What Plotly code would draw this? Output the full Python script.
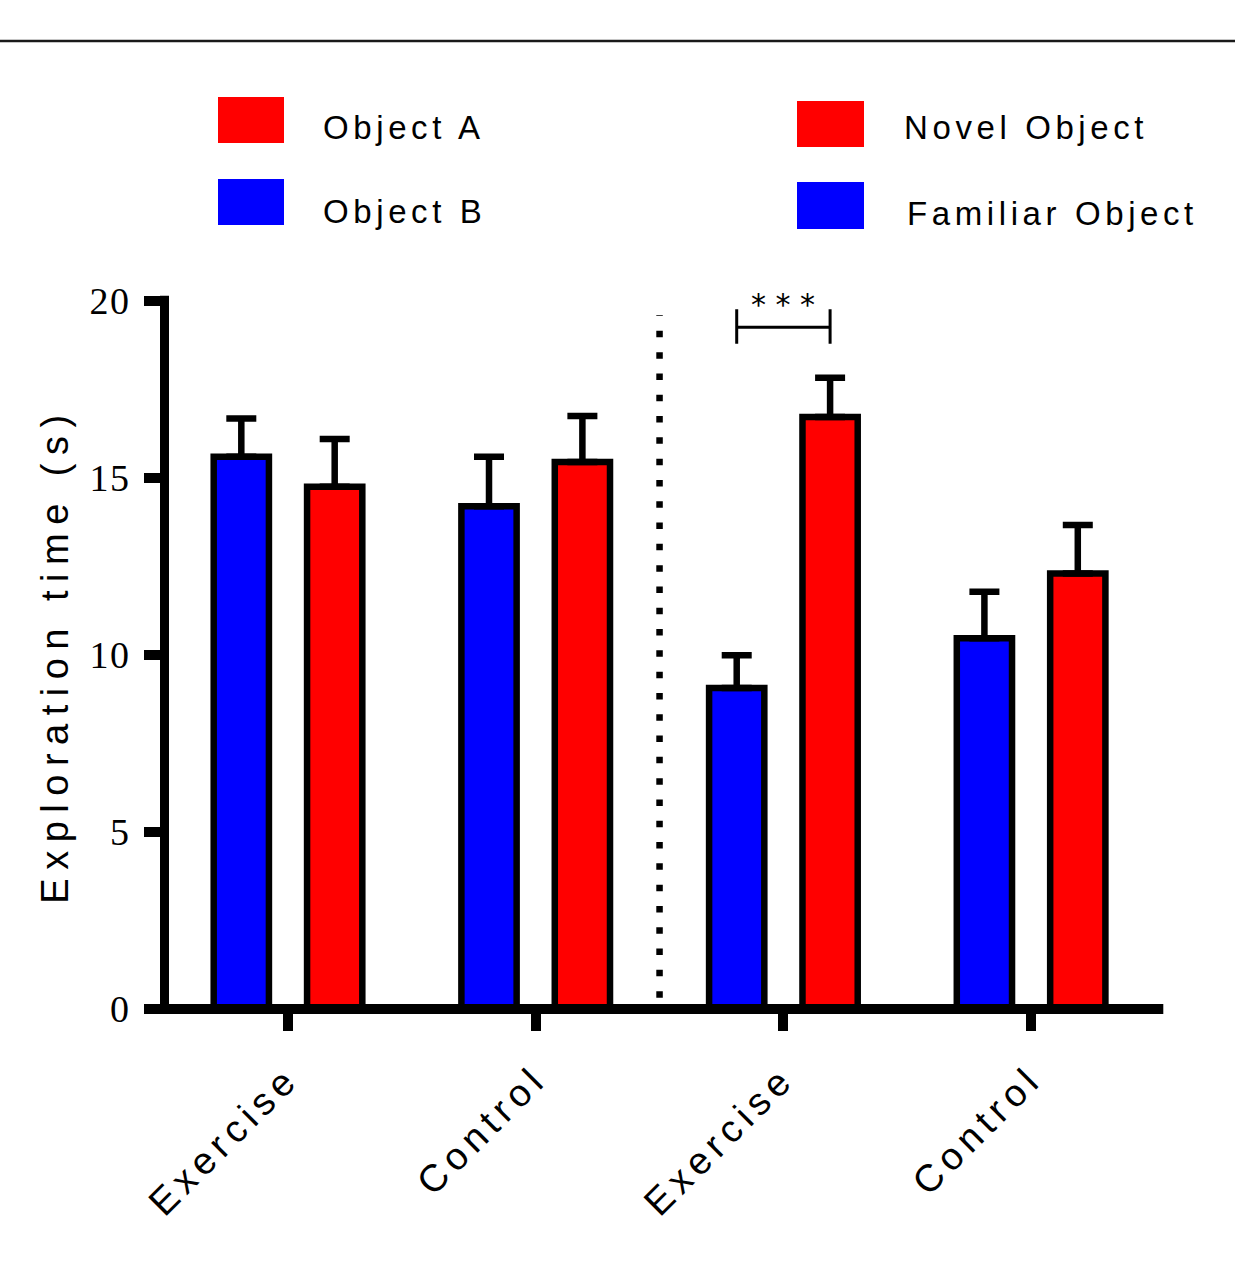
import plotly.graph_objects as go

# ---------------- data ----------------
tick_labels = ["Exercise", "Control", "Exercise", "Control"]
y_ticks = [0, 5, 10, 15, 20]

object_b = [15.60, 14.20]          # blue, left half
object_b_err = [1.08, 1.40]
object_a = [14.75, 15.45]          # red, left half
object_a_err = [1.35, 1.30]
familiar = [9.07, 10.47]           # blue, right half
familiar_err = [0.92, 1.32]
novel = [16.72, 12.30]             # red, right half
novel_err = [1.11, 1.37]

legend_labels = ["Object A", "Object B", "Novel Object", "Familiar Object"]
significance = "* * *"
y_title = "Exploration time (s)"

# ---------------- style / geometry ----------------
BLUE = "#0000FF"
RED = "#FF0000"
W, H = 1235, 1261
L, R, T, B = 164, 72, 301, 252
PW, PH = W - L - R, H - T - B


def fx(px):
    return (px - L) / PW


def fy(py):
    return (H - B - py) / PH


OFF = 0.1885
BW = 0.223
left_groups = list(range(0, 2))
right_groups = list(range(2, 4))


def make_bar(name, groups, vals, errs, color, side):
    return go.Bar(
        name=name, x=groups, y=vals, width=BW, offset=side * OFF - BW / 2,
        marker=dict(color=color, line=dict(color="black", width=6.5)),
        error_y=dict(type="data", array=errs, arrayminus=[0] * len(errs),
                     symmetric=False, color="black", thickness=6.5, width=15),
        showlegend=False,
    )


fig = go.Figure()
fig.add_trace(make_bar(legend_labels[1], left_groups, object_b, object_b_err, BLUE, -1))
fig.add_trace(make_bar(legend_labels[0], left_groups, object_a, object_a_err, RED, 1))
fig.add_trace(make_bar(legend_labels[3], right_groups, familiar, familiar_err, BLUE, -1))
fig.add_trace(make_bar(legend_labels[2], right_groups, novel, novel_err, RED, 1))

shapes = [
    # top rule
    dict(type="line", xref="paper", yref="paper", x0=fx(0), x1=fx(W), y0=fy(41), y1=fy(41),
         line=dict(color="#1a1a1a", width=2.5)),
    # y axis line
    dict(type="line", xref="paper", yref="paper", x0=fx(164.5), x1=fx(164.5), y0=0, y1=fy(295.7),
         line=dict(color="black", width=9)),
    # x axis line
    dict(type="line", xref="paper", yref="paper", x0=fx(145), x1=fx(1163.3), y0=0, y1=0,
         line=dict(color="black", width=10)),
    # dotted separator
    dict(type="line", xref="x", yref="y", x0=1.5, x1=1.5, y0=0.32, y1=19.6,
         line=dict(color="black", width=6.5, dash="6.5px,14.8px")),
    # significance bracket
    dict(type="path", xref="x", yref="y",
         path=f"M {2 - OFF},18.79 V 19.77 M {2 - OFF},19.26 H {2 + OFF} M {2 + OFF},18.79 V 19.77",
         line=dict(color="black", width=3)),
]

# legend swatches
swatches = [
    (218, 284, 97, 143, RED),
    (218, 284, 179, 225, BLUE),
    (797, 864, 101, 147, RED),
    (797, 864, 182, 229, BLUE),
]
for x0, x1, y0, y1, c in swatches:
    shapes.append(dict(type="rect", xref="paper", yref="paper", x0=fx(x0), x1=fx(x1),
                       y0=fy(y1), y1=fy(y0), fillcolor=c, line=dict(width=0)))

annotations = [
    dict(text=significance, xref="x", yref="paper", x=2, y=fy(305), xanchor="center",
         yanchor="middle", showarrow=False,
         font=dict(family="DejaVu Sans", size=30, color="black")),
]
legend_text_pos = [(321, 127), (321, 212), (902, 127), (905, 213)]
for lab, (px, py) in zip(legend_labels, legend_text_pos):
    annotations.append(dict(text=lab, xref="paper", yref="paper", x=fx(px), y=fy(py),
                            xanchor="left", yanchor="middle", align="left", showarrow=False,
                            font=dict(family="Liberation Sans", size=33, color="black")))

fig.update_layout(
    width=W, height=H,
    margin=dict(l=L, r=R, t=T, b=B, autoexpand=False),
    plot_bgcolor="white", paper_bgcolor="white",
    barmode="overlay", showlegend=False,
    xaxis=dict(range=[-0.5006, 3.5325], tickmode="array",
               tickvals=list(range(len(tick_labels))), ticktext=tick_labels,
               tickangle=-45, ticks="outside", ticklen=21, tickwidth=10, tickcolor="black",
               showline=False, showgrid=False, zeroline=False, ticklabelstandoff=10,
               tickfont=dict(family="Liberation Sans", size=38, color="black")),
    yaxis=dict(range=[0, 20], tickmode="array", tickvals=y_ticks,
               ticktext=[str(v) for v in y_ticks],
               ticks="outside", ticklen=19, tickwidth=10, tickcolor="black",
               showline=False, showgrid=False, zeroline=False, ticklabelstandoff=6,
               tickfont=dict(family="Liberation Serif", size=38, color="black")),
    shapes=shapes,
    annotations=annotations,
)
fig.update_yaxes(title=dict(text=y_title, standoff=12,
                            font=dict(family="Liberation Sans", size=38, color="black")))

css = (".xtick text{letter-spacing:6px} "
       ".ytick text{letter-spacing:1.5px} "
       ".ytitle{letter-spacing:8.5px} "
       ".annotation-text{letter-spacing:4.6px} "
       "g.annotation[data-index='0'] .annotation-text{letter-spacing:0px}")
post = ("var s=document.createElement('style');s.innerHTML=\"" + css +
        "\";document.head.appendChild(s);")

fig.write_html("out.html", post_script=post)
